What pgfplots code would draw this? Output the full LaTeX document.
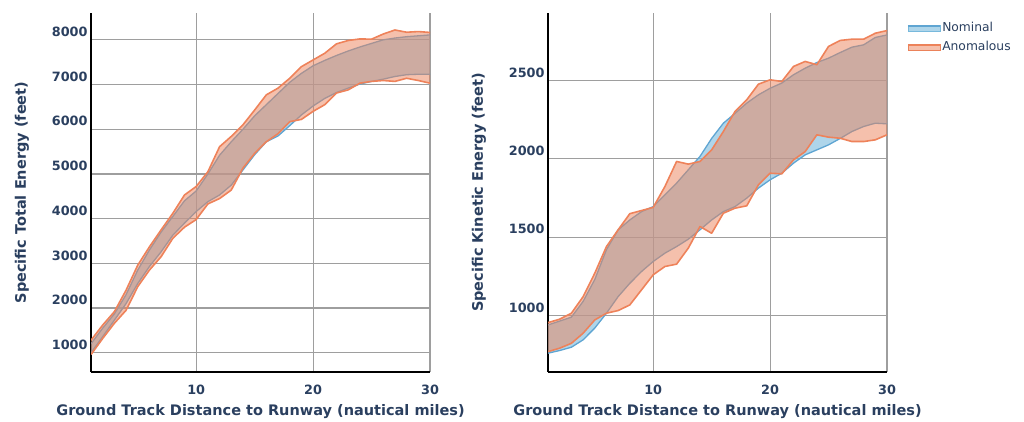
\documentclass[border=0pt]{standalone}
\usepackage{pgfplots}
\pgfplotsset{compat=1.18}
\usepackage{pgfplotstable}
\usepgfplotslibrary{fillbetween}
\usepackage{fontspec}
\setmainfont{DejaVu Sans}
\definecolor{slate}{RGB}{42,63,95}
\definecolor{nomline}{RGB}{95,165,210}
\definecolor{nomfill}{RGB}{120,185,220}
\definecolor{anline}{RGB}{238,130,90}
\definecolor{anfill}{RGB}{235,130,90}

\pgfplotstableread{
x nu nl au al
1 1200 1000 1280 960
2 1550 1360 1620 1320
3 1870 1730 1920 1660
4 2300 2100 2400 1950
5 2850 2550 2960 2480
6 3300 2930 3370 2850
7 3700 3260 3750 3150
8 4050 3630 4120 3560
9 4400 3900 4530 3810
10 4620 4160 4720 3980
11 5000 4380 5050 4330
12 5420 4530 5610 4450
13 5720 4750 5840 4640
14 6000 5090 6100 5130
15 6300 5430 6430 5460
16 6550 5720 6770 5720
17 6800 5850 6920 5900
18 7050 6080 7140 6170
19 7250 6320 7400 6220
20 7420 6520 7550 6400
21 7540 6690 7700 6550
22 7650 6820 7910 6810
23 7750 6920 7985 6880
24 7840 7010 8020 7030
25 7920 7070 8015 7070
26 8000 7120 8130 7090
27 8040 7180 8220 7070
28 8070 7220 8170 7140
29 8090 7230 8185 7090
30 8110 7230 8165 7030
}\teData

\pgfplotstableread{
x nu nl au al
1 940 760 955 770
2 965 777 977 792
3 990 798 1015 823
4 1090 845 1120 887
5 1230 920 1270 972
6 1420 1015 1440 1015
7 1547 1121 1547 1032
8 1610 1206 1650 1068
9 1663 1281 1670 1164
10 1695 1345 1690 1260
11 1770 1398 1823 1313
12 1845 1440 1983 1328
13 1930 1487 1966 1430
14 2015 1547 1983 1568
15 2130 1610 2057 1525
16 2227 1663 2174 1653
17 2290 1695 2302 1685
18 2355 1749 2376 1700
19 2408 1813 2476 1834
20 2450 1866 2504 1908
21 2483 1908 2493 1904
22 2536 1972 2589 1993
23 2578 2025 2621 2046
24 2614 2057 2600 2153
25 2642 2089 2717 2138
26 2678 2130 2755 2131
27 2712 2174 2763 2110
28 2727 2206 2763 2110
29 2774 2227 2801 2121
30 2790 2223 2818 2153
}\keData

\pgfplotsset{
  mystyle/.style={
    scale only axis, width=339pt, height=359pt,
    xmin=1, xmax=30, xtick={10,20,30},
    axis x line*=bottom, axis y line*=left,
    axis line style={black, line width=2pt},
    grid=major, grid style={black!38, line width=1.2pt},
    major tick length=0pt,
    tick label style={font=\fontsize{12.8}{14}\selectfont\bfseries, text=slate},
    /pgf/number format/assume math mode=true,
    /pgf/number format/1000 sep={},
    yticklabel style={yshift=8pt},
    xticklabel style={anchor=center, yshift=-18pt},
    label style={font=\fontsize{14.5}{17}\selectfont\bfseries, text=slate},
    xlabel style={at={(axis description cs:0.5,-0.111)}, anchor=center},
    ylabel style={at={(axis description cs:-0.2035,0.5)}, anchor=center},
    fill between/on layer=main,
  },
  nomln/.style={nomline, line width=1.3pt, line join=round},
  anln/.style={anline, line width=1.6pt, line join=round},
}

\begin{document}
\begin{tikzpicture}

\begin{axis}[mystyle, at={(91pt,49pt)}, anchor=south west,
  ymin=570, ymax=8600, ytick={1000,2000,...,8000},
  xlabel={Ground Track Distance to Runway (nautical miles)},
  ylabel={Specific Total Energy (feet)}]
  \addplot[name path=tnu, draw=none, forget plot] table[x=x,y=nu]{\teData};
  \addplot[name path=tnl, draw=none, forget plot] table[x=x,y=nl]{\teData};
  \addplot[nomfill, fill opacity=0.6, draw=none, forget plot] fill between[of=tnu and tnl];
  \addplot[nomln, forget plot] table[x=x,y=nu]{\teData};
  \addplot[nomln, forget plot] table[x=x,y=nl]{\teData};
  \addplot[name path=tau, draw=none, forget plot] table[x=x,y=au]{\teData};
  \addplot[name path=tal, draw=none, forget plot] table[x=x,y=al]{\teData};
  \addplot[anfill, fill opacity=0.5, draw=none, forget plot] fill between[of=tau and tal];
  \addplot[anln, forget plot] table[x=x,y=au]{\teData};
  \addplot[anln, forget plot] table[x=x,y=al]{\teData};
\end{axis}

\begin{axis}[mystyle, at={(548pt,49pt)}, anchor=south west,
  ymin=640, ymax=2930, ytick={1000,1500,2000,2500},
  xlabel={Ground Track Distance to Runway (nautical miles)},
  ylabel={Specific Kinetic Energy (feet)},
  legend style={at={(axis description cs:1.05,0.985)}, anchor=north west,
    draw=none, fill=none, font=\fontsize{12.3}{14}\selectfont, text=slate,
    row sep=5.5pt, nodes={inner sep=1.5pt}},
  legend cell align=left]
  \addplot[name path=knu, draw=none, forget plot] table[x=x,y=nu]{\keData};
  \addplot[name path=knl, draw=none, forget plot] table[x=x,y=nl]{\keData};
  \addplot[nomfill, fill opacity=0.6, draw=none, forget plot] fill between[of=knu and knl];
  \addplot[nomln, forget plot] table[x=x,y=nu]{\keData};
  \addplot[nomln, forget plot] table[x=x,y=nl]{\keData};
  \addplot[name path=kau, draw=none, forget plot] table[x=x,y=au]{\keData};
  \addplot[name path=kal, draw=none, forget plot] table[x=x,y=al]{\keData};
  \addplot[anfill, fill opacity=0.5, draw=none, forget plot] fill between[of=kau and kal];
  \addplot[anln, forget plot] table[x=x,y=au]{\keData};
  \addplot[anln, forget plot] table[x=x,y=al]{\keData};
  \addlegendimage{legend image code/.code={
    \fill[nomfill, fill opacity=0.6] (0pt,-3.5pt) rectangle (32pt,2.5pt);
    \draw[nomline, line width=1.6pt] (0pt,1.5pt) -- (32pt,1.5pt);}}
  \addlegendentry{Nominal}
  \addlegendimage{legend image code/.code={
    \fill[anfill, fill opacity=0.5] (0pt,-3.5pt) rectangle (32pt,2.5pt);
    \draw[anline, line width=1.6pt] (0pt,1.5pt) -- (32pt,1.5pt);}}
  \addlegendentry{Anomalous}
\end{axis}
\pgfresetboundingbox
\path[use as bounding box] (0pt,0pt) rectangle (1024pt,421pt);
\end{tikzpicture}
\end{document}
